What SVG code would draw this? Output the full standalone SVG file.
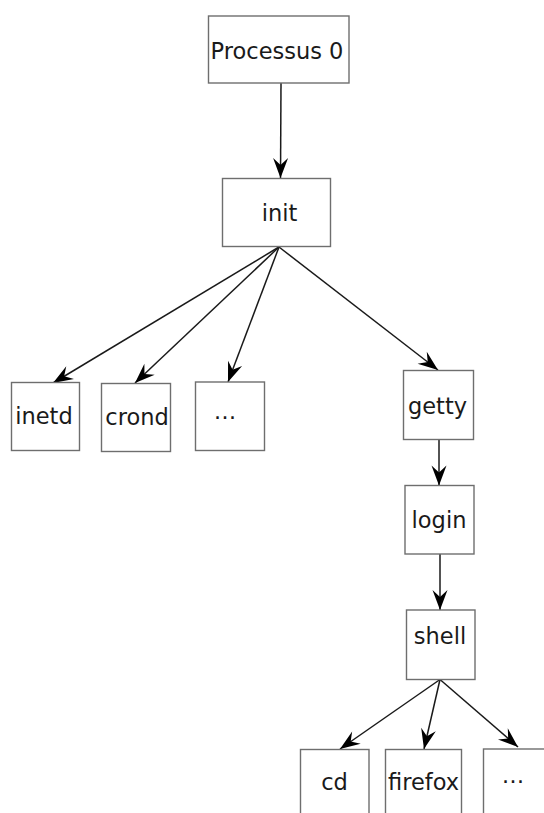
<svg xmlns="http://www.w3.org/2000/svg" width="544" height="813" viewBox="0 0 544 813">
<style>
.box{fill:#fff;stroke:#6e6e6e;stroke-width:1.4}
.lbl{font-family:"DejaVu Sans",sans-serif;font-size:22.5px;fill:#1a1a1a}
.edge{fill:none;stroke:#1a1a1a;stroke-width:1.5;marker-end:url(#ah)}
</style>
<defs>
<marker id="ah" markerUnits="userSpaceOnUse" markerWidth="22" markerHeight="16" viewBox="-21 -8 22 16" refX="0" refY="0" orient="auto" overflow="visible">
<path d="M0,0 L-20,-7.5 L-13,0 L-20,7.5 Z" fill="#000"/>
</marker>
</defs>
<rect width="544" height="813" fill="#fff"/>
<g id="edges">
<line class="edge" x1="281" y1="83" x2="280.5" y2="178"/>
<line class="edge" x1="279" y1="247" x2="53" y2="383"/>
<line class="edge" x1="279" y1="247" x2="135" y2="383"/>
<line class="edge" x1="279" y1="247" x2="228" y2="382"/>
<line class="edge" x1="279" y1="247" x2="438" y2="370"/>
<line class="edge" x1="439" y1="439" x2="439" y2="485.5"/>
<line class="edge" x1="440" y1="554" x2="440" y2="610"/>
<line class="edge" x1="440" y1="679.5" x2="340" y2="749"/>
<line class="edge" x1="440" y1="679.5" x2="424" y2="749"/>
<line class="edge" x1="440" y1="679.5" x2="518" y2="747"/>
</g>
<g id="n-proc0"><rect class="box" x="208.5" y="16" width="140.5" height="67"/><text class="lbl" x="277" y="59" text-anchor="middle">Processus 0</text></g>
<g id="n-init"><rect class="box" x="222.5" y="178.5" width="108" height="68"/><text class="lbl" x="279.5" y="220.5" text-anchor="middle">init</text></g>
<g id="n-inetd"><rect class="box" x="11.5" y="382.5" width="68" height="68"/><text class="lbl" x="44" y="424" text-anchor="middle">inetd</text></g>
<g id="n-crond"><rect class="box" x="101.5" y="383.5" width="69" height="68"/><text class="lbl" x="137" y="424.5" text-anchor="middle">crond</text></g>
<g id="n-etc1"><rect class="box" x="195.5" y="382" width="69" height="68.5"/><text class="lbl" x="225" y="419" text-anchor="middle">…</text></g>
<g id="n-getty"><rect class="box" x="403.5" y="370.5" width="70" height="69"/><text class="lbl" x="437.5" y="413.5" text-anchor="middle">getty</text></g>
<g id="n-login"><rect class="box" x="405" y="485.5" width="69" height="68.5"/><text class="lbl" x="439" y="527.5" text-anchor="middle">login</text></g>
<g id="n-shell"><rect class="box" x="406.5" y="610" width="68.5" height="69.5"/><text class="lbl" x="440" y="644" text-anchor="middle">shell</text></g>
<g id="n-cd"><rect class="box" x="300.5" y="749.5" width="68.5" height="80"/><text class="lbl" x="334.5" y="789.5" text-anchor="middle">cd</text></g>
<g id="n-firefox"><rect class="box" x="385.5" y="749.5" width="76" height="80"/><text class="lbl" x="423.5" y="789.5" text-anchor="middle">firefox</text></g>
<g id="n-etc2"><rect class="box" x="483.5" y="749" width="70" height="80"/><text class="lbl" x="513" y="783" text-anchor="middle">…</text></g>
</svg>
